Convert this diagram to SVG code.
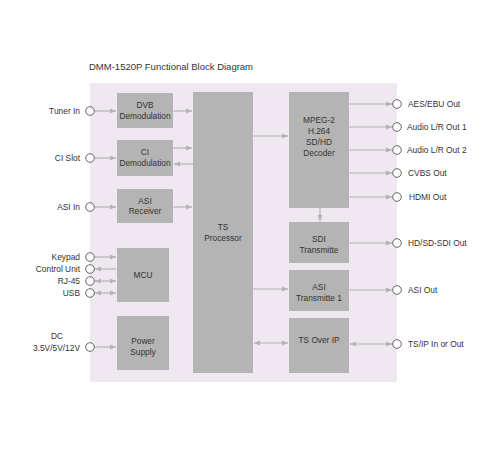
<svg xmlns="http://www.w3.org/2000/svg" width="500" height="450" viewBox="0 0 500 450">
<defs>
<marker id="ah" viewBox="0 0 6 6" refX="6" refY="3" markerWidth="6" markerHeight="6" markerUnits="userSpaceOnUse" orient="auto-start-reverse">
<path d="M0,0.5 L6,3 L0,5.5 Z" fill="#b3b3b3"/>
</marker>
<style>
.blk{fill:#b4b4b4;}
.t{font-family:"Liberation Sans",Arial,sans-serif;font-size:8.3px;fill:#333;text-anchor:middle;}
.l{font-family:"Liberation Sans",Arial,sans-serif;font-size:8.4px;fill:#333;}
.r{text-anchor:end;}
.m{text-anchor:middle;}
.c{fill:#fff;stroke:#555;stroke-width:0.9;}
.w{stroke:#b3b3b3;stroke-width:1.2;fill:none;}
.a{marker-end:url(#ah);}
.b{marker-start:url(#ah);marker-end:url(#ah);}
.s{marker-start:url(#ah);}
</style>
</defs>
<rect width="500" height="450" fill="#fff"/>
<text x="89" y="70" font-family="Liberation Sans,Arial,sans-serif" font-size="9.5" fill="#333">DMM-1520P Functional Block Diagram</text>
<rect x="90" y="83" width="307" height="299" fill="#efe8f0"/>

<g id="connectors">
<line class="w a" x1="95" y1="111" x2="116" y2="111"/>
<line class="w a" x1="95" y1="158" x2="116" y2="158"/>
<line class="w a" x1="95" y1="207" x2="116" y2="207"/>
<line class="w a" x1="95" y1="257" x2="116" y2="257"/>
<line class="w s" x1="95" y1="269" x2="116" y2="269"/>
<line class="w b" x1="95" y1="281" x2="116" y2="281"/>
<line class="w b" x1="95" y1="293" x2="116" y2="293"/>
<line class="w a" x1="95" y1="347" x2="116" y2="347"/>
<line class="w a" x1="173" y1="111" x2="192" y2="111"/>
<line class="w a" x1="173" y1="148" x2="192" y2="148"/>
<line class="w s" x1="174" y1="164" x2="193" y2="164"/>
<line class="w a" x1="173" y1="207" x2="192" y2="207"/>
<line class="w a" x1="253" y1="136" x2="288" y2="136"/>
<line class="w a" x1="253" y1="289" x2="288" y2="289"/>
<line class="w b" x1="254" y1="343" x2="288" y2="343"/>
<line class="w a" x1="320" y1="208" x2="320" y2="221"/>
<line class="w a" x1="349" y1="104" x2="392" y2="104"/>
<line class="w a" x1="349" y1="127" x2="392" y2="127"/>
<line class="w a" x1="349" y1="150" x2="392" y2="150"/>
<line class="w a" x1="349" y1="173" x2="392" y2="173"/>
<line class="w a" x1="349" y1="197" x2="392" y2="197"/>
<line class="w a" x1="349" y1="243" x2="392" y2="243"/>
<line class="w a" x1="349" y1="290" x2="392" y2="290"/>
<line class="w b" x1="350" y1="344" x2="392" y2="344"/>
</g>

<g id="tuner-in"><circle class="c" cx="90" cy="111" r="4.3"/><text class="l r" x="80" y="114">Tuner In</text></g>
<g id="ci-slot"><circle class="c" cx="90" cy="158" r="4.3"/><text class="l r" x="80" y="161">CI Slot</text></g>
<g id="asi-in"><circle class="c" cx="90" cy="207" r="4.3"/><text class="l r" x="80" y="210">ASI In</text></g>
<g id="keypad"><circle class="c" cx="90" cy="257" r="4.3"/><text class="l r" x="80" y="260">Keypad</text></g>
<g id="control-unit"><circle class="c" cx="90" cy="269" r="4.3"/><text class="l r" x="80" y="272">Control Unit</text></g>
<g id="rj45"><circle class="c" cx="90" cy="281" r="4.3"/><text class="l r" x="80" y="284">RJ-45</text></g>
<g id="usb"><circle class="c" cx="90" cy="293" r="4.3"/><text class="l r" x="80" y="296">USB</text></g>
<g id="dc"><circle class="c" cx="90" cy="347" r="4.3"/><text class="l m" x="57" y="339">DC</text><text class="l r" x="80" y="351">3.5V/5V/12V</text></g>

<g id="dvb"><rect class="blk" x="117" y="93" width="56" height="35"/><text class="t" x="145" y="108">DVB</text><text class="t" x="145" y="119">Demodulation</text></g>
<g id="ci"><rect class="blk" x="117" y="140" width="56" height="36"/><text class="t" x="145" y="155">CI</text><text class="t" x="145" y="166">Demodulation</text></g>
<g id="asi-rx"><rect class="blk" x="117" y="189" width="56" height="34"/><text class="t" x="145" y="204">ASI</text><text class="t" x="145" y="214">Receiver</text></g>
<g id="mcu"><rect class="blk" x="117" y="248" width="52" height="54"/><text class="t" x="143" y="278">MCU</text></g>
<g id="power"><rect class="blk" x="117" y="316" width="52" height="54"/><text class="t" x="143" y="344">Power</text><text class="t" x="143" y="355">Supply</text></g>
<g id="ts-proc"><rect class="blk" x="193" y="92" width="60" height="281"/><text class="t" x="223" y="230">TS</text><text class="t" x="223" y="241">Processor</text></g>
<g id="decoder"><rect class="blk" x="289" y="92" width="60" height="116"/><text class="t" x="319" y="123">MPEG-2</text><text class="t" x="319" y="134">H.264</text><text class="t" x="319" y="145">SD/HD</text><text class="t" x="319" y="156">Decoder</text></g>
<g id="sdi-tx"><rect class="blk" x="289" y="222" width="60" height="41"/><text class="t" x="319" y="242">SDI</text><text class="t" x="319" y="253">Transmitte</text></g>
<g id="asi-tx"><rect class="blk" x="289" y="270" width="60" height="41"/><text class="t" x="319" y="290">ASI</text><text class="t" x="319" y="301">Transmitte 1</text></g>
<g id="ts-ip"><rect class="blk" x="289" y="318" width="60" height="55"/><text class="t" x="319" y="343">TS Over IP</text></g>

<g id="aes"><circle class="c" cx="397" cy="104" r="4.3"/><text class="l" x="408" y="107">AES/EBU Out</text></g>
<g id="audio1"><circle class="c" cx="397" cy="127" r="4.3"/><text class="l" x="407" y="130">Audio L/R Out 1</text></g>
<g id="audio2"><circle class="c" cx="397" cy="150" r="4.3"/><text class="l" x="407" y="153">Audio L/R Out 2</text></g>
<g id="cvbs"><circle class="c" cx="397" cy="173" r="4.3"/><text class="l" x="408" y="176">CVBS Out</text></g>
<g id="hdmi"><circle class="c" cx="397" cy="197" r="4.3"/><text class="l" x="409" y="200">HDMI Out</text></g>
<g id="sdi-out"><circle class="c" cx="397" cy="243" r="4.3"/><text class="l" x="408" y="246">HD/SD-SDI Out</text></g>
<g id="asi-out"><circle class="c" cx="397" cy="290" r="4.3"/><text class="l" x="408" y="293">ASI Out</text></g>
<g id="tsip-out"><circle class="c" cx="397" cy="344" r="4.3"/><text class="l" x="408" y="347">TS/IP In or Out</text></g>
</svg>
